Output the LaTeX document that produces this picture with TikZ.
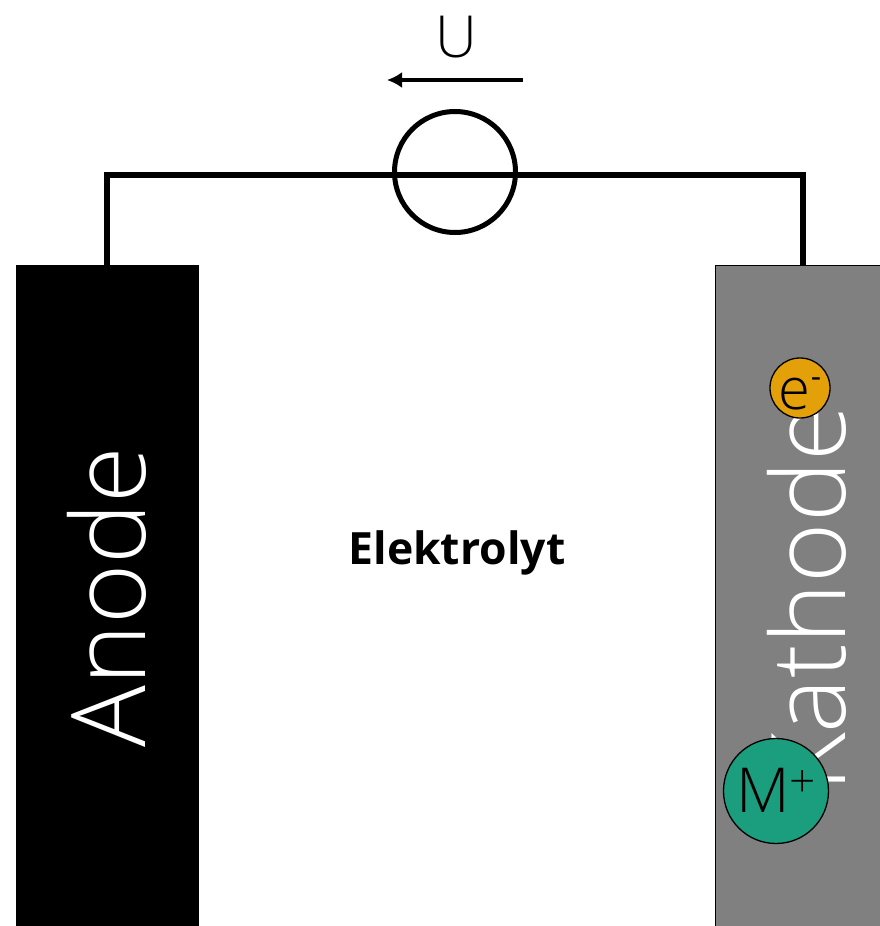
\documentclass[tikz,border=0pt]{standalone}
\usepackage{fontspec}
\setmainfont{Open Sans}
\newfontfamily\lightfont{Open Sans Light}
\usetikzlibrary{arrows.meta}
\definecolor{katgray}{HTML}{808080}
\definecolor{eorange}{HTML}{E3A008}
\definecolor{mgreen}{HTML}{1A9E7E}
\tikzset{
  wire/.style={line width=5.4pt,line cap=butt,line join=miter},
  particle/.style={circle,draw=black,line width=1.3pt,inner sep=0pt,text=black},
}
\begin{document}
\begin{tikzpicture}[x=1pt,y=-1pt]
\useasboundingbox (0,0) rectangle (880,926);
\fill[white] (0,0) rectangle (880,926);
\node[fill=black,minimum width=183pt,minimum height=661pt,inner sep=0pt,anchor=north west] (anode) at (16,265) {};
\node[fill=katgray,draw=black,line width=1.4pt,minimum width=170pt,minimum height=665pt,inner sep=0pt,anchor=north west] (kathode) at (714.5,265) {};
\node[circle,draw=black,line width=5pt,minimum size=121pt,inner sep=0pt] (u) at (455,172) {};
\coordinate (al) at (107,175);
\coordinate (ar) at (803,175);
\draw[wire] (107,265) -- (al) -- (ar) -- (803,265);
\draw[line width=4pt,-{Latex[length=15pt,width=16pt]}] (523,80) -- (387,80);
\node (ulabel) at (456,37) {\lightfont\fontsize{58}{58}\selectfont U};
\node[rotate=90,text=white] (atext) at (107,597) {\fontsize{103}{103}\lightfont\selectfont Anode};
\node[rotate=90,text=white] (ktext) at (807,599) {\fontsize{103}{103}\lightfont\selectfont Kathode};
\node (elek) at (457,553) {\fontsize{44.5}{44.5}\selectfont\bfseries Elektrolyt};
\node[particle,fill=eorange,minimum size=60pt] (e) at (800,388) {\smash{\raisebox{-21pt}{\lightfont\fontsize{58}{58}\selectfont e}\raisebox{1pt}{\fontsize{32}{32}\selectfont -}}};
\node[particle,fill=mgreen,minimum size=105pt] (m) at (776,791) {\smash{\raisebox{-21pt}{\lightfont\fontsize{62}{62}\selectfont M}\raisebox{-6pt}{\lightfont\fontsize{46}{46}\selectfont +}}};
\end{tikzpicture}
\end{document}
